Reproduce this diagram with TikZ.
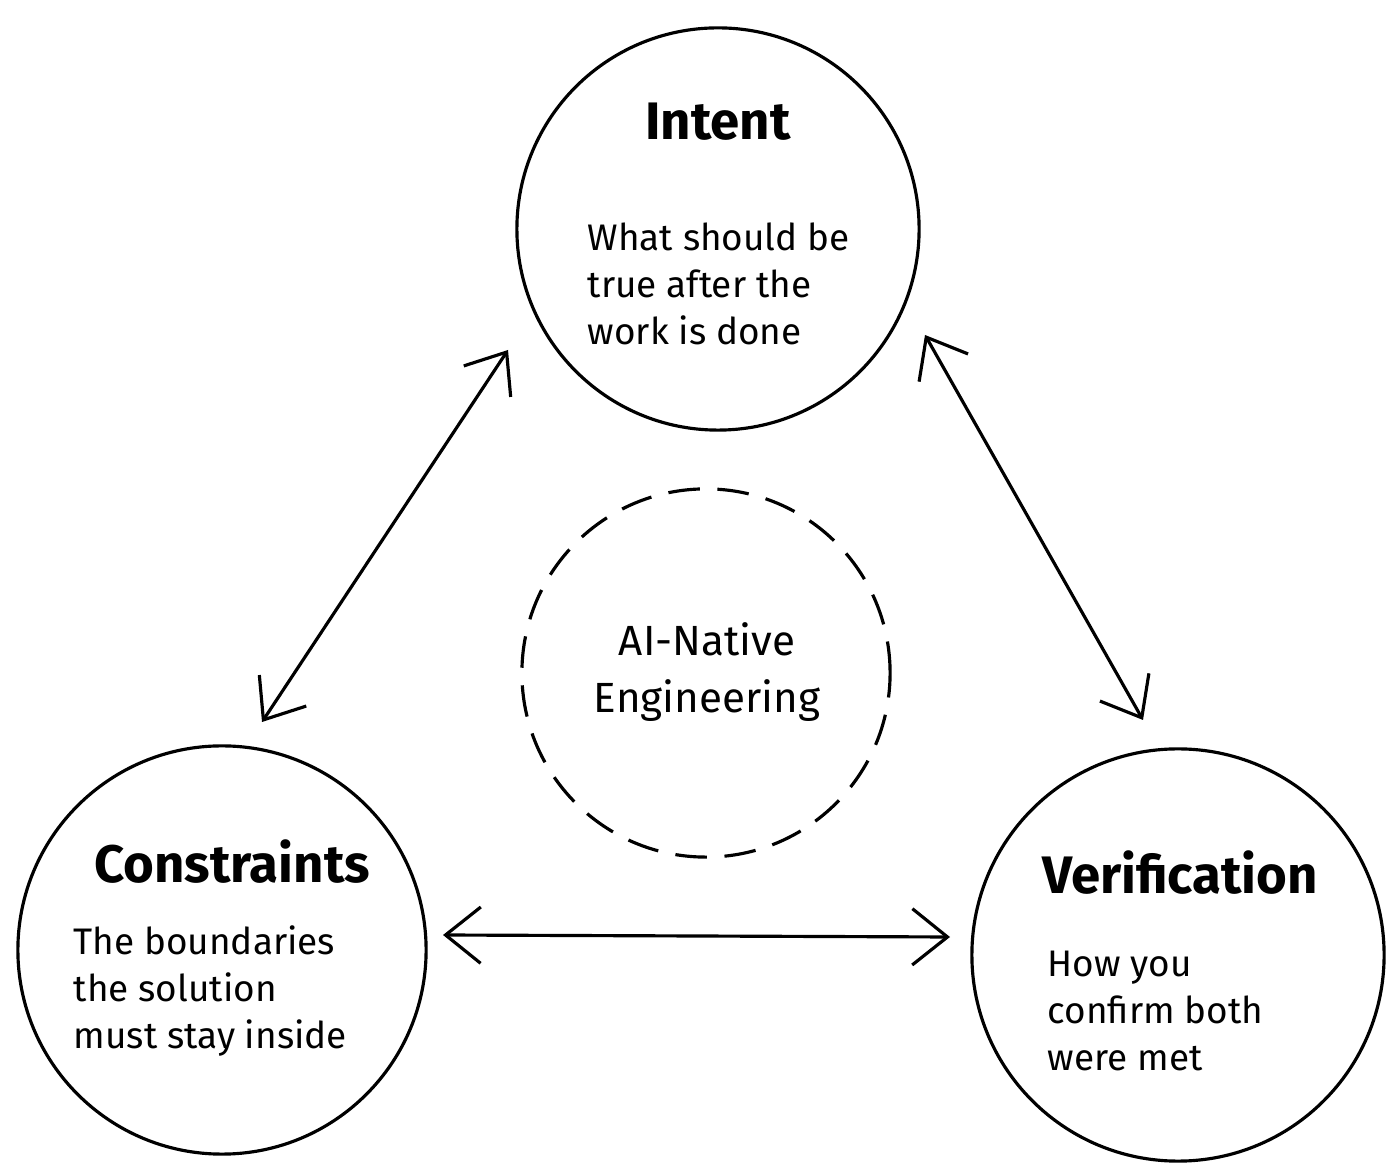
\documentclass[tikz,border=0pt]{standalone}
\usepackage{fontspec}
\setmainfont{Fira Sans}
\usetikzlibrary{arrows.meta}
\begin{document}
\begin{tikzpicture}[x=0.01cm,y=-0.01cm,
  circ/.style={circle,draw,line width=0.9pt,inner sep=0pt},
  title/.style={font=\fontsize{15}{18}\selectfont\bfseries},
  body/.style={font=\fontsize{10.5}{13.4}\selectfont,align=left,anchor=north west,inner sep=0pt},
  conn/.style={line width=0.9pt,{Straight Barb[length=10pt,width=16pt]}-{Straight Barb[length=10pt,width=16pt]}}]
\useasboundingbox (0,0) rectangle (1400,1174);
\node[circ,minimum size=4.02cm] (I) at (718,229) {};
\node[circ,minimum size=4.08cm] (C) at (222,950) {};
\node[circ,minimum size=4.12cm] (V) at (1178,955) {};
\node[circ,dashed,dash pattern=on 9pt off 5pt,minimum size=3.68cm] (A) at (706,673) {};
\node[title] (It) at (718,122) {Intent};
\node[body] (Ib) at (587,222) {What should be\\true after the\\work is done};
\node[title] (Ct) at (232,862) {Constraints};
\node[body] (Cb) at (73,925) {The boundaries\\the solution\\must stay inside};
\node[title] (Vt) at (1180,873) {Verification};
\node[body] (Vb) at (1047,950) {How you\\confirm both\\were met};
\node[font=\fontsize{12}{16}\selectfont,align=center] (At) at (707,672) {AI-Native\\Engineering};
\coordinate (i1) at (508,350); \coordinate (c1) at (262,722);
\coordinate (i2) at (925,335); \coordinate (v2) at (1143,720);
\coordinate (c3) at (443,935); \coordinate (v3) at (950,937);
\draw[conn] (c1) -- (i1);
\draw[conn] (i2) -- (v2);
\draw[conn] (c3) -- (v3);
\end{tikzpicture}
\end{document}
